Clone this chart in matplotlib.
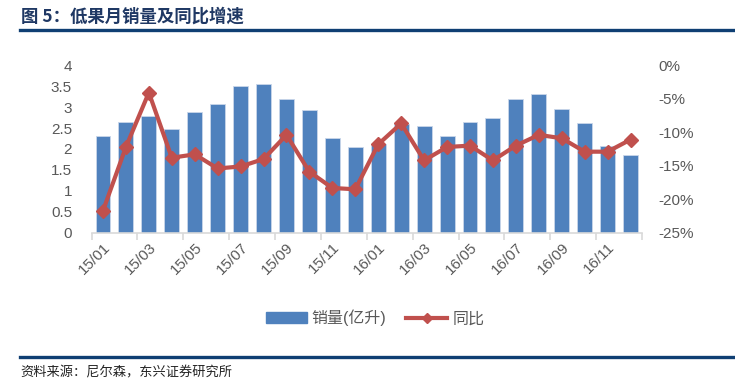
import matplotlib.pyplot as plt
from matplotlib.lines import Line2D
import numpy as np

plt.rcParams['font.family'] = ['Liberation Sans', 'Noto Sans CJK SC', 'DejaVu Sans']

months = ['15/01', '15/02', '15/03', '15/04', '15/05', '15/06', '15/07', '15/08',
          '15/09', '15/10', '15/11', '15/12', '16/01', '16/02', '16/03', '16/04',
          '16/05', '16/06', '16/07', '16/08', '16/09', '16/10', '16/11', '16/12']
sales = [2.31, 2.65, 2.79, 2.48, 2.89, 3.06, 3.51, 3.54, 3.20, 2.92, 2.27, 2.04,
         2.13, 2.59, 2.55, 2.31, 2.65, 2.75, 3.20, 3.31, 2.96, 2.61, 2.07, 1.86]
yoy = [-21.7, -12.2, -4.1, -13.8, -13.3, -15.4, -15.1, -14.0, -10.4, -15.9, -18.3, -18.5,
       -11.8, -8.7, -14.2, -12.2, -12.0, -14.2, -12.0, -10.4, -10.9, -12.9, -12.9, -11.1]

bar_color = '#4F81BD'
line_color = '#C0504D'
text_gray = '#595959'
navy = '#0F3F73'

fig = plt.figure(figsize=(7.35, 3.87), dpi=100)
ax = fig.add_axes([0.1245, 0.398, 0.749, 0.434])
x = np.arange(len(months))
ax.bar(x, sales, width=0.65, color=bar_color, edgecolor='#C9D6EA', linewidth=0.6, zorder=2)
ax.set_xlim(-0.5, len(months) - 0.5)
ax.set_ylim(0, 4)
ax.set_yticks(np.arange(0, 4.01, 0.5))
ax.set_yticklabels(['0', '0.5', '1', '1.5', '2', '2.5', '3', '3.5', '4'])
ax.tick_params(axis='y', length=0, labelsize=11, labelcolor=text_gray, pad=14)
for s in ['top', 'right', 'left']:
    ax.spines[s].set_visible(False)
ax.spines['bottom'].set_color('#D9D9D9')
ax.spines['bottom'].set_linewidth(1.2)

ax.set_xticks(x[::2])
ax.set_xticklabels(months[::2], rotation=45, ha='right', rotation_mode='anchor')
ax.tick_params(axis='x', length=0, labelsize=11, labelcolor=text_gray, pad=5)
ax.set_xticks(np.arange(-0.5, len(months), 2), minor=True)
ax.tick_params(axis='x', which='minor', length=5, color='#D9D9D9', width=1.2)

ax2 = ax.twinx()
ax2.plot(x, yoy, color=line_color, linewidth=3, marker='D', markersize=7.5, zorder=3)
ax2.set_ylim(-25, 0)
ax2.set_yticks(np.arange(-25, 0.1, 5))
ax2.set_yticklabels([f'{int(v)}%' for v in np.arange(-25, 0.1, 5)])
ax2.tick_params(axis='y', length=0, labelsize=11, labelcolor=text_gray, pad=12)
for s in ['top', 'right', 'left', 'bottom']:
    ax2.spines[s].set_visible(False)

handles = [plt.Rectangle((0, 0), 1, 1, color=bar_color),
           Line2D([0], [0], color=line_color, linewidth=3, marker='D', markersize=5)]
fig.legend(handles, ['销量(亿升)', '同比'], loc='center', bbox_to_anchor=(0.51, 0.178),
           ncol=2, frameon=False, fontsize=11.5, handlelength=2.6, columnspacing=1.2,
           handletextpad=0.3, labelcolor=text_gray)

fig.text(0.028, 0.958, '图 5：低果月销量及同比增速', fontsize=12.5, fontweight='bold',
         color='#1F3864', va='center', family=['Noto Sans CJK SC'])
fig.add_artist(Line2D([0.027, 1.0], [0.922, 0.922], color=navy, linewidth=2.4))
fig.add_artist(Line2D([0.027, 1.0], [0.077, 0.077], color=navy, linewidth=2.4))
fig.text(0.028, 0.035, '资料来源：尼尔森，东兴证券研究所', fontsize=9.5, style='italic',
         color='#222222', va='center', family=['Noto Sans CJK SC'])

fig.savefig('out.png', dpi=100)
